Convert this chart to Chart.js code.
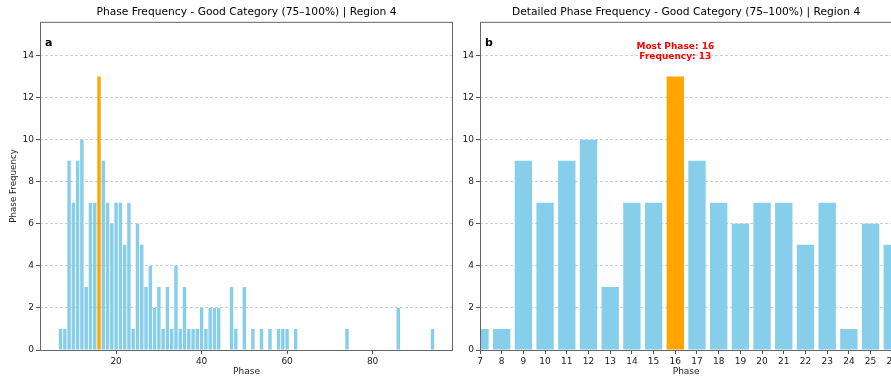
<!DOCTYPE html>
<html>
<head>
<meta charset="utf-8">
<script src="https://cdn.jsdelivr.net/npm/chart.js@4"></script>
<style>
  html, body { margin: 0; padding: 0; background: #fff; }
  body { width: 891px; height: 380px; overflow: hidden; position: relative; }
  .wrap { position: absolute; top: 0; height: 380px; }
</style>
</head>
<body>
<div class="wrap" style="left:0;width:460px"><canvas id="chartA" width="460" height="380"></canvas></div>
<div class="wrap" style="left:460px;width:440px"><canvas id="chartB" width="440" height="380"></canvas></div>
<script>
// Données
const phases = [7, 8, 9, 10, 11, 12, 13, 14, 15, 16, 17, 18, 19, 20, 21, 22, 23, 24, 25, 26,
    27, 28, 29, 30, 31, 32, 33, 34, 35, 36, 37, 38, 39, 40, 41, 42, 43, 44, 47, 48,
    50, 52, 54, 56, 58, 59, 60, 62, 74, 86, 94];
const frequencies = [1, 1, 9, 7, 9, 10, 3, 7, 7, 13, 9, 7, 6, 7, 7, 5, 7, 1, 6, 5,
    3, 4, 2, 3, 1, 3, 1, 4, 1, 3, 1, 1, 1, 2, 1, 2, 2, 2, 3, 1,
    3, 1, 1, 1, 1, 1, 1, 1, 1, 2, 1];
const yTicks = [0, 2, 4, 6, 8, 10, 12, 14];
const xTicksA = [20, 40, 60, 80];
const xTicksB = [7, 8, 9, 10, 11, 12, 13, 14, 15, 16, 17, 18, 19, 20, 21, 22, 23, 24, 25, 26];

const titleA = 'Phase Frequency - Good Category (75\u2013100%) | Region 4';
const titleB = 'Detailed Phase Frequency - Good Category (75\u2013100%) | Region 4';

const maxIdx = frequencies.indexOf(Math.max(...frequencies));
const mostPhase = phases[maxIdx];
const mostFreq = frequencies[maxIdx];

const FONT = 'DejaVu Sans';
const barColors = phases.map(p => p === mostPhase ? '#FFA500' : '#87CEEB');
const points = phases.map((p, i) => ({ x: p, y: frequencies[i] }));

// cadre complet autour de la zone de tracé + lettre du panneau
const framePlugin = {
    id: 'frame',
    afterDatasetsDraw(chart, args, opts) {
        const { ctx, chartArea: a } = chart;
        ctx.save();
        ctx.strokeStyle = '#666';
        ctx.lineWidth = 1;
        ctx.strokeRect(a.left + 0.5, a.top + 0.5, a.right - a.left - 1, a.bottom - a.top);
        ctx.fillStyle = '#000';
        ctx.font = 'bold 11px "' + FONT + '"';
        ctx.textBaseline = 'middle';
        ctx.textAlign = 'left';
        ctx.fillText(opts.letter, a.left + 5, a.top + 21);
        ctx.restore();
    }
};

// annotation rouge au-dessus de la barre max
const notePlugin = {
    id: 'note',
    afterDatasetsDraw(chart) {
        const { ctx, scales } = chart;
        const x = scales.x.getPixelForValue(mostPhase);
        const y = scales.y.getPixelForValue(mostFreq);
        ctx.save();
        ctx.fillStyle = '#FF0000';
        ctx.font = 'bold 9px "' + FONT + '"';
        ctx.textAlign = 'center';
        ctx.textBaseline = 'middle';
        ctx.fillText('Most Phase: ' + mostPhase, x, y - 29.5);
        ctx.fillText('Frequency: ' + mostFreq, x, y - 19.5);
        ctx.restore();
    }
};

function makeOptions(cfg) {
    return {
        responsive: false,
        animation: false,
        devicePixelRatio: 1,
        layout: { padding: { left: 0, right: cfg.padRight, top: 0, bottom: 0 } },
        plugins: {
            legend: { display: false },
            tooltip: { enabled: false },
            title: {
                display: true,
                text: cfg.title,
                fullSize: false,
                color: '#000',
                font: { family: FONT, size: 10.7, weight: 'normal' },
                padding: { top: 6, bottom: 3 }
            },
            frame: { letter: cfg.letter }
        },
        scales: {
            x: {
                type: 'linear',
                offset: false,
                min: cfg.xMin,
                max: cfg.xMax,
                afterBuildTicks: s => { s.ticks = cfg.xTicks.map(v => ({ value: v })); },
                afterFit: s => { s.height = 30; },
                grid: { offset: false, drawOnChartArea: false, tickLength: 4, tickColor: '#555' },
                border: { display: false },
                ticks: { color: '#222', font: { family: FONT, size: 9 }, padding: 2, maxRotation: 0, autoSkip: false },
                title: { display: true, text: 'Phase', color: '#222', font: { family: FONT, size: 9 }, padding: { top: 0, bottom: 3 } }
            },
            y: {
                min: 0,
                max: 15.6,
                afterBuildTicks: s => { s.ticks = yTicks.map(v => ({ value: v })); },
                afterFit: s => { s.width = cfg.yWidth; },
                grid: { color: '#cfcfcf', tickLength: 4, tickColor: '#555' },
                border: { display: false, dash: [3, 2] },
                ticks: { color: '#222', font: { family: FONT, size: 9 }, padding: 2 },
                title: { display: cfg.yTitle, text: 'Phase Frequency', color: '#222', font: { family: FONT, size: 8.7 }, padding: { top: 9, bottom: 0 } }
            }
        }
    };
}

function makeData() {
    return {
        datasets: [{
            data: points,
            backgroundColor: barColors,
            borderWidth: 0,
            categoryPercentage: 1.0,
            barPercentage: 0.8
        }]
    };
}

new Chart(document.getElementById('chartA').getContext('2d'), {
    type: 'bar',
    data: makeData(),
    options: makeOptions({ title: titleA, letter: 'a', xMin: 2.2, xMax: 98.8, xTicks: xTicksA, yWidth: 40, yTitle: true, padRight: 7 }),
    plugins: [framePlugin]
});

new Chart(document.getElementById('chartB').getContext('2d'), {
    type: 'bar',
    data: makeData(),
    options: makeOptions({ title: titleB, letter: 'b', xMin: 7, xMax: 26, xTicks: xTicksB, yWidth: 20, yTitle: false, padRight: 6.5 }),
    plugins: [framePlugin, notePlugin]
});
</script>
</body>
</html>
